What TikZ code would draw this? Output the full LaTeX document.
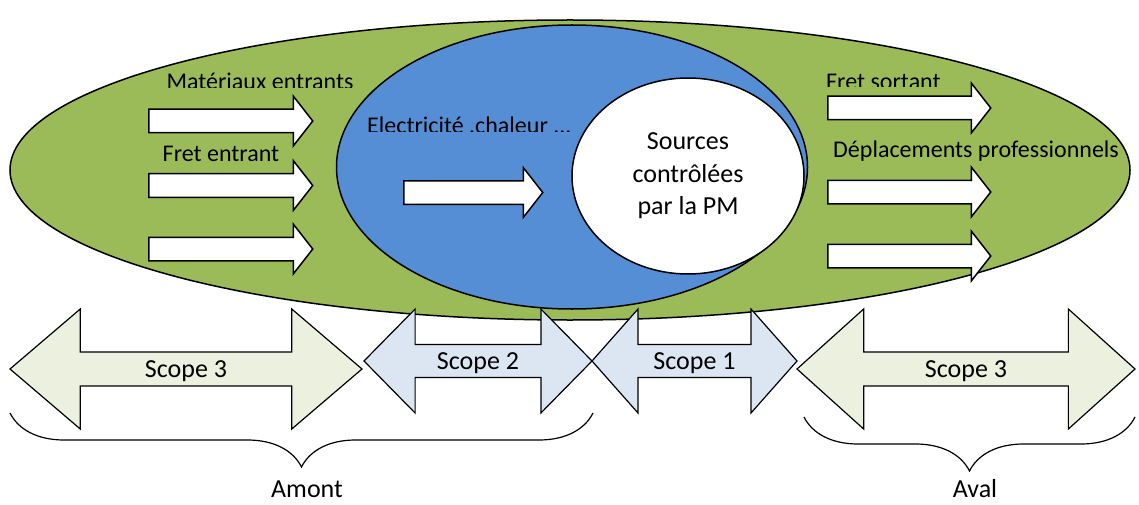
\documentclass[tikz,border=0pt]{standalone}
\usepackage{fontspec}
\setmainfont{Carlito}
\usetikzlibrary{shapes.geometric}
\usetikzlibrary{shapes.arrows}
\usetikzlibrary{decorations.pathreplacing}
\definecolor{zonegreen}{HTML}{9BBB59}
\definecolor{zoneblue}{HTML}{558ED5}
\definecolor{scopegreen}{HTML}{EBF1DE}
\definecolor{scopeblue}{HTML}{DCE6F2}
\tikzstyle{zone} = [draw, ellipse, line width=1.5pt, inner sep=0pt]
\tikzstyle{flowarrow} = [single arrow, draw, fill=white, line width=1.5pt, inner xsep=0pt, inner ysep=11pt, text height=0pt, text depth=0pt, single arrow head extend=13pt, single arrow tip angle=104, anchor=tail]
\tikzstyle{scopearrow} = [double arrow, draw, line width=1.2pt, inner sep=0pt, text depth=0pt, font=\fontsize{26}{31}\selectfont]
\tikzstyle{flowlabel} = [anchor=base, inner sep=0pt, font=\fontsize{24}{29}\selectfont]
\tikzstyle{curly} = [decorate, decoration={brace, mirror, amplitude=54pt}, line width=1.2pt]

\begin{document}
\begin{tikzpicture}[x=1pt, y=-1pt]
  \useasboundingbox (0,0) rectangle (1139,505);

  % the three zones
  \node[zone, fill=zonegreen, minimum width=1120pt, minimum height=300pt] (green) at (570,170) {};
  \node[zone, fill=zoneblue, minimum width=471pt, minimum height=284pt] (blue) at (572,167) {};
  \node[zone, fill=white, minimum width=232pt, minimum height=196pt, align=center,
        font=\fontsize{26}{32.5}\selectfont] (pm) at (688,176) {Sources\\contrôlées\\par la PM};

  % flows
  \node[flowarrow, minimum height=164pt] (in1) at (148,121) {};
  \node[flowarrow, minimum height=164pt] (in2) at (148,185.5) {};
  \node[flowarrow, minimum height=164pt] (in3) at (148,249) {};
  \node[flowarrow, minimum height=139pt] (elec) at (403,192.5) {};
  \node[flowarrow, minimum height=163pt] (out1) at (827,108) {};
  \node[flowarrow, minimum height=163pt] (out2) at (827,192) {};
  \node[flowarrow, minimum height=163pt] (out3) at (827,256) {};

  \begin{scope}
    \clip (150,60) rectangle (380,88);
    \node[flowlabel] (mat) at (260,90) {Matériaux entrants};
  \end{scope}
  \node[flowlabel] (fretin) at (221,162) {Fret entrant};
  \begin{scope}
    \clip (350,100) rectangle (580,132);
    \node[flowlabel, anchor=base west] (chal) at (367,134) {Electricité ,chaleur ...};
  \end{scope}
  \begin{scope}
    \clip (810,60) rectangle (960,87);
    \node[flowlabel, anchor=base west] (fretout) at (826,89.5) {Fret sortant};
  \end{scope}
  \begin{scope}
    \clip (820,120) rectangle (1139,161);
    \node[flowlabel, anchor=base west] (depl) at (833,158) {Déplacements professionnels};
  \end{scope}

  % scopes
  \node[scopearrow, fill=scopegreen, minimum width=120pt, minimum height=352pt,
        double arrow head extend=23pt, double arrow tip angle=81] (s3a) at (186,369) {Scope 3};
  \node[scopearrow, fill=scopeblue, minimum width=104pt, minimum height=228pt,
        double arrow head extend=19.5pt, double arrow tip angle=91] (s2) at (478,361) {Scope 2};
  \node[scopearrow, fill=scopeblue, minimum width=104pt, minimum height=205pt,
        double arrow head extend=19.5pt, double arrow tip angle=97] (s1) at (694.5,361) {Scope 1};
  \node[scopearrow, fill=scopegreen, minimum width=120pt, minimum height=338pt,
        double arrow head extend=23pt, double arrow tip angle=84] (s3b) at (966,369) {Scope 3};

  % upstream / downstream
  \coordinate (amontL) at (10,413);
  \coordinate (amontR) at (593,413);
  \coordinate (avalL) at (804,417);
  \coordinate (avalR) at (1135,417);
  \draw[curly] (amontL) -- (amontR);
  \draw[curly] (avalL) -- (avalR);
  \node[font=\fontsize{26}{31}\selectfont] (amont) at (307,489) {Amont};
  \node[font=\fontsize{26}{31}\selectfont] (aval) at (975,489) {Aval};
\end{tikzpicture}
\end{document}
